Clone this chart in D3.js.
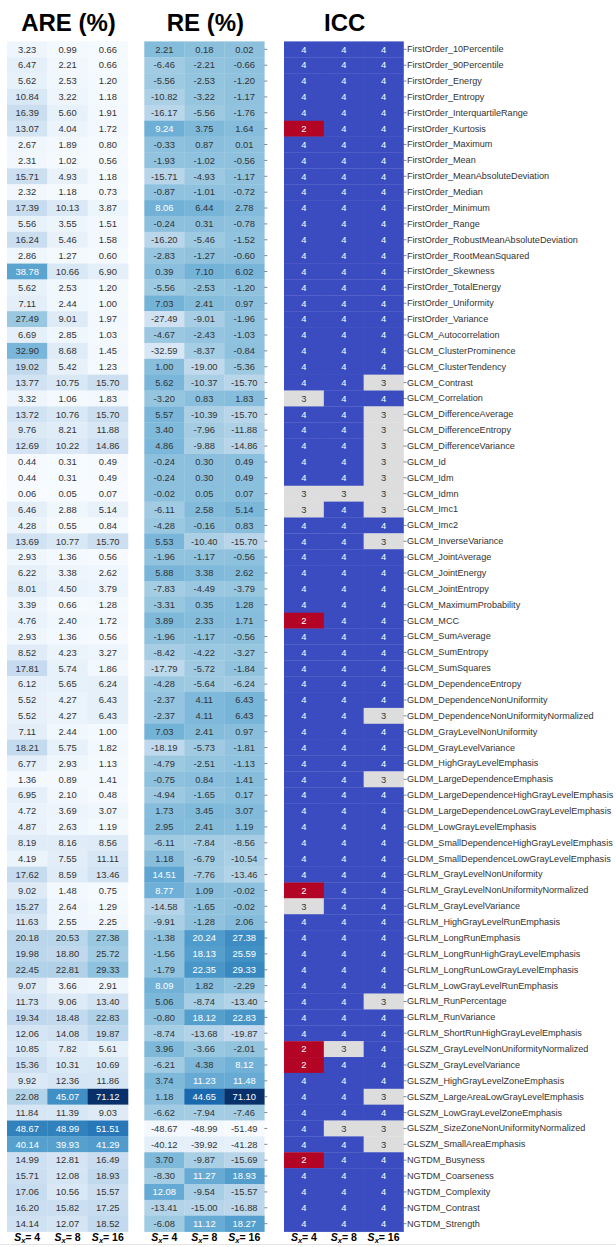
<!DOCTYPE html>
<html>
<head>
<meta charset="utf-8">
<script src="https://cdn.jsdelivr.net/npm/d3@7"></script>
<style>
  body { margin: 0; background: #fff; }
  svg { display: block; }
  text { font-family: "Liberation Sans", Arial, sans-serif; }
</style>
</head>
<body>
<svg id="chart" width="616" height="1247"></svg>
<script>
// Radiomic features (rows)
const features = [
  "FirstOrder_10Percentile","FirstOrder_90Percentile","FirstOrder_Energy","FirstOrder_Entropy",
  "FirstOrder_InterquartileRange","FirstOrder_Kurtosis","FirstOrder_Maximum","FirstOrder_Mean",
  "FirstOrder_MeanAbsoluteDeviation","FirstOrder_Median","FirstOrder_Minimum","FirstOrder_Range",
  "FirstOrder_RobustMeanAbsoluteDeviation","FirstOrder_RootMeanSquared","FirstOrder_Skewness",
  "FirstOrder_TotalEnergy","FirstOrder_Uniformity","FirstOrder_Variance",
  "GLCM_Autocorrelation","GLCM_ClusterProminence","GLCM_ClusterTendency","GLCM_Contrast",
  "GLCM_Correlation","GLCM_DifferenceAverage","GLCM_DifferenceEntropy","GLCM_DifferenceVariance",
  "GLCM_Id","GLCM_Idm","GLCM_Idmn","GLCM_Imc1","GLCM_Imc2","GLCM_InverseVariance",
  "GLCM_JointAverage","GLCM_JointEnergy","GLCM_JointEntropy","GLCM_MaximumProbability",
  "GLCM_MCC","GLCM_SumAverage","GLCM_SumEntropy","GLCM_SumSquares",
  "GLDM_DependenceEntropy","GLDM_DependenceNonUniformity","GLDM_DependenceNonUniformityNormalized",
  "GLDM_GrayLevelNonUniformity","GLDM_GrayLevelVariance","GLDM_HighGrayLevelEmphasis",
  "GLDM_LargeDependenceEmphasis","GLDM_LargeDependenceHighGrayLevelEmphasis",
  "GLDM_LargeDependenceLowGrayLevelEmphasis","GLDM_LowGrayLevelEmphasis",
  "GLDM_SmallDependenceHighGrayLevelEmphasis","GLDM_SmallDependenceLowGrayLevelEmphasis",
  "GLRLM_GrayLevelNonUniformity","GLRLM_GrayLevelNonUniformityNormalized","GLRLM_GrayLevelVariance",
  "GLRLM_HighGrayLevelRunEmphasis","GLRLM_LongRunEmphasis","GLRLM_LongRunHighGrayLevelEmphasis",
  "GLRLM_LongRunLowGrayLevelEmphasis","GLRLM_LowGrayLevelRunEmphasis","GLRLM_RunPercentage",
  "GLRLM_RunVariance","GLRLM_ShortRunHighGrayLevelEmphasis",
  "GLSZM_GrayLevelNonUniformityNormalized","GLSZM_GrayLevelVariance","GLSZM_HighGrayLevelZoneEmphasis",
  "GLSZM_LargeAreaLowGrayLevelEmphasis","GLSZM_LowGrayLevelZoneEmphasis",
  "GLSZM_SizeZoneNonUniformityNormalized","GLSZM_SmallAreaEmphasis",
  "NGTDM_Busyness","NGTDM_Coarseness","NGTDM_Complexity","NGTDM_Contrast","NGTDM_Strength"
];

// Column labels (S_x values)
const scaleLabels = ["4", "8", "16"];

// Absolute relative error (%)
const are4 = [3.23,6.47,5.62,10.84,16.39,13.07,2.67,2.31,15.71,2.32,17.39,5.56,16.24,2.86,38.78,5.62,7.11,27.49,
  6.69,32.90,19.02,13.77,3.32,13.72,9.76,12.69,0.44,0.44,0.06,6.46,4.28,13.69,2.93,6.22,8.01,3.39,4.76,2.93,8.52,17.81,
  6.12,5.52,5.52,7.11,18.21,6.77,1.36,6.95,4.72,4.87,8.19,4.19,
  17.62,9.02,15.27,11.63,20.18,19.98,22.45,9.07,11.73,19.34,12.06,
  10.85,15.36,9.92,22.08,11.84,48.67,40.14,
  14.99,15.71,17.06,16.20,14.14];
const are8 = [0.99,2.21,2.53,3.22,5.60,4.04,1.89,1.02,4.93,1.18,10.13,3.55,5.46,1.27,10.66,2.53,2.44,9.01,
  2.85,8.68,5.42,10.75,1.06,10.76,8.21,10.22,0.31,0.31,0.05,2.88,0.55,10.77,1.36,3.38,4.50,0.66,2.40,1.36,4.23,5.74,
  5.65,4.27,4.27,2.44,5.75,2.93,0.89,2.10,3.69,2.63,8.16,7.55,
  8.59,1.48,2.64,2.55,20.53,18.80,22.81,3.66,9.06,18.48,14.08,
  7.82,10.31,12.36,45.07,11.39,48.99,39.93,
  12.81,12.08,10.56,15.82,12.07];
const are16 = [0.66,0.66,1.20,1.18,1.91,1.72,0.80,0.56,1.18,0.73,3.87,1.51,1.58,0.60,6.90,1.20,1.00,1.97,
  1.03,1.45,1.23,15.70,1.83,15.70,11.88,14.86,0.49,0.49,0.07,5.14,0.84,15.70,0.56,2.62,3.79,1.28,1.72,0.56,3.27,1.86,
  6.24,6.43,6.43,1.00,1.82,1.13,1.41,0.48,3.07,1.19,8.56,11.11,
  13.46,0.75,1.29,2.25,27.38,25.72,29.33,2.91,13.40,22.83,19.87,
  5.61,10.69,11.86,71.12,9.03,51.51,41.29,
  16.49,18.93,15.57,17.25,18.52];

// Relative error (%)
const re4 = [2.21,-6.46,-5.56,-10.82,-16.17,9.24,-0.33,-1.93,-15.71,-0.87,8.06,-0.24,-16.20,-2.83,0.39,-5.56,7.03,-27.49,
  -4.67,-32.59,1.00,5.62,-3.20,5.57,3.40,4.86,-0.24,-0.24,-0.02,-6.11,-4.28,5.53,-1.96,5.88,-7.83,-3.31,3.89,-1.96,-8.42,-17.79,
  -4.28,-2.37,-2.37,7.03,-18.19,-4.79,-0.75,-4.94,1.73,2.95,-6.11,1.18,
  14.51,8.77,-14.58,-9.91,-1.38,-1.56,-1.79,8.09,5.06,-0.80,-8.74,
  3.96,-6.21,3.74,1.18,-6.62,-48.67,-40.12,
  3.70,-8.30,12.08,-13.41,-6.08];
const re8 = [0.18,-2.21,-2.53,-3.22,-5.56,3.75,0.87,-1.02,-4.93,-1.01,6.44,0.31,-5.46,-1.27,7.10,-2.53,2.41,-9.01,
  -2.43,-8.37,-19.00,-10.37,0.83,-10.39,-7.96,-9.88,0.30,0.30,0.05,2.58,-0.16,-10.40,-1.17,3.38,-4.49,0.35,2.33,-1.17,-4.22,-5.72,
  -5.64,4.11,4.11,2.41,-5.73,-2.51,0.84,-1.65,3.45,2.41,-7.84,-6.79,
  -7.76,1.09,-1.65,-1.28,20.24,18.13,22.35,1.82,-8.74,18.12,-13.68,
  -3.66,4.38,11.23,44.65,-7.94,-48.99,-39.92,
  -9.87,11.27,-9.54,-15.00,11.12];
const re16 = [0.02,-0.66,-1.20,-1.17,-1.76,1.64,0.01,-0.56,-1.17,-0.72,2.78,-0.78,-1.52,-0.60,6.02,-1.20,0.97,-1.96,
  -1.03,-0.84,-5.36,-15.70,1.83,-15.70,-11.88,-14.86,0.49,0.49,0.07,5.14,0.83,-15.70,-0.56,2.62,-3.79,1.28,1.71,-0.56,-3.27,-1.84,
  -6.24,6.43,6.43,0.97,-1.81,-1.13,1.41,0.17,3.07,1.19,-8.56,-10.54,
  -13.46,-0.02,-0.02,2.06,27.38,25.59,29.33,-2.29,-13.40,22.83,-19.87,
  -2.01,8.12,11.48,71.10,-7.46,-51.49,-41.28,
  -15.69,18.93,-15.57,-16.88,18.27];

// ICC agreement class
const icc4 = [4,4,4,4,4,2,4,4,4,4, 4,4,4,4,4,4,4,4,4,4, 4,4,3,4,4,4,4,4,3,3, 4,4,4,4,4,4,2,4,4,4,
  4,4,4,4,4,4,4,4,4,4, 4,4,4,2,3,4,4,4,4,4, 4,4,4,2,2,4,4,4,4,4, 2,4,4,4,4];
const icc8 = [4,4,4,4,4,4,4,4,4,4, 4,4,4,4,4,4,4,4,4,4, 4,4,4,4,4,4,4,4,3,4, 4,4,4,4,4,4,4,4,4,4,
  4,4,4,4,4,4,4,4,4,4, 4,4,4,4,4,4,4,4,4,4, 4,4,4,3,4,4,4,4,3,4, 4,4,4,4,4];
const icc16 = [4,4,4,4,4,4,4,4,4,4, 4,4,4,4,4,4,4,4,4,4, 4,3,4,3,3,3,3,3,3,3, 4,3,4,4,4,4,4,4,4,4,
  4,4,3,4,4,4,3,4,4,4, 4,4,4,4,4,4,4,4,4,4, 3,4,4,4,4,4,3,4,3,3, 4,4,4,4,4];

// ---- colour maps ----
const bluesStops = ["#f7fbff","#deebf7","#c6dbef","#9ecae1","#6baed6","#4292c6","#2171b5","#08519c","#08306b"];
function bluesScale(extent) {
  const [lo, hi] = extent;
  return d3.scaleLinear()
    .domain(bluesStops.map((_, i) => lo + (hi - lo) * i / (bluesStops.length - 1)))
    .range(bluesStops)
    .interpolate(d3.interpolateRgb)
    .clamp(true);
}
const iccColor = d3.scaleOrdinal().domain([2, 3, 4]).range(["#b40426", "#dddddd", "#3b4cc0"]);

function luminance(c) {
  const rgb = d3.rgb(c);
  const lin = [rgb.r, rgb.g, rgb.b].map(v => {
    v /= 255;
    return v <= 0.03928 ? v / 12.92 : Math.pow((v + 0.055) / 1.055, 2.4);
  });
  return 0.2126 * lin[0] + 0.7152 * lin[1] + 0.0722 * lin[2];
}
const textColor = c => luminance(c) > 0.408 ? "#333333" : "#ffffff";

// two-decimal format with a plain hyphen for negatives
const fmt2 = d3.formatLocale({ decimal: ".", thousands: ",", grouping: [3], currency: ["", ""], minus: "-" }).format(".2f");

// ---- layout ----
const svg = d3.select("#chart");
const rowScale = d3.scaleBand().domain(features).range([41.4, 1231.6]);

const panels = [
  { title: "ARE (%)", x0: 7,     x1: 128,   cols: [are4, are8, are16], ticks: false,
    color: bluesScale(d3.extent([...are4, ...are8, ...are16])), fmt: fmt2 },
  { title: "RE (%)",  x0: 144.3, x1: 264.3, cols: [re4, re8, re16],    ticks: true,
    color: bluesScale(d3.extent([...re4, ...re8, ...re16])), fmt: fmt2 },
  { title: "ICC",     x0: 284,   x1: 403.5, cols: [icc4, icc8, icc16], ticks: true,
    color: iccColor, fmt: d => String(d) }
];

panels.forEach(p => {
  const colScale = d3.scaleBand().domain(scaleLabels).range([p.x0, p.x1]);
  const g = svg.append("g");

  const cells = [];
  features.forEach((f, r) => {
    scaleLabels.forEach((s, c) => cells.push({ f, s, v: p.cols[c][r] }));
  });

  g.selectAll("rect").data(cells).join("rect")
    .attr("x", d => colScale(d.s))
    .attr("y", d => rowScale(d.f))
    .attr("width", colScale.bandwidth() + 0.3)
    .attr("height", rowScale.bandwidth() + 0.3)
    .attr("fill", d => p.color(d.v));

  g.selectAll("text.val").data(cells).join("text")
    .attr("class", "val")
    .attr("x", d => colScale(d.s) + colScale.bandwidth() / 2)
    .attr("y", d => rowScale(d.f) + rowScale.bandwidth() / 2)
    .attr("dy", "0.35em")
    .attr("text-anchor", "middle")
    .attr("font-size", "9.4px")
    .attr("fill", d => textColor(p.color(d.v)))
    .text(d => p.fmt(d.v));

  // panel title
  svg.append("text")
    .attr("x", (p.x0 + p.x1) / 2 + 1)
    .attr("y", 31)
    .attr("text-anchor", "middle")
    .attr("font-size", "24px")
    .attr("font-weight", "bold")
    .attr("fill", "#000")
    .text(p.title);

  // column labels S_x = n
  const foot = svg.append("g").selectAll("text").data(scaleLabels).join("text")
    .attr("x", d => colScale(d) + colScale.bandwidth() / 2)
    .attr("y", 1241)
    .attr("text-anchor", "middle")
    .attr("font-size", "10.5px")
    .attr("font-weight", "bold")
    .attr("fill", "#000");
  foot.append("tspan").attr("font-style", "italic").text("S");
  foot.append("tspan").attr("font-style", "italic").attr("font-size", "7.5px").attr("dy", "2").text("x");
  foot.append("tspan").attr("dy", "-2").text(d => "= " + d);

  // right-hand tick marks
  if (p.ticks) {
    g.selectAll("line.tick").data(features).join("line")
      .attr("class", "tick")
      .attr("x1", p.x1).attr("x2", p.x1 + 3)
      .attr("y1", d => rowScale(d) + rowScale.bandwidth() / 2)
      .attr("y2", d => rowScale(d) + rowScale.bandwidth() / 2)
      .attr("stroke", "#666").attr("stroke-width", 0.8);
  }
});

// feature names on the right of the ICC panel
const yAxis = d3.axisRight(rowScale).tickSize(0).tickPadding(3.5);
svg.append("g")
  .attr("transform", "translate(403.5,0)")
  .call(yAxis)
  .call(a => a.select(".domain").remove())
  .call(a => a.selectAll("text")
    .attr("font-size", "9.1px")
    .attr("font-family", "\"Liberation Sans\", Arial, sans-serif")
    .attr("fill", "#333"));

// faint baseline at the bottom
svg.append("line")
  .attr("x1", 0).attr("x2", 616).attr("y1", 1244.5).attr("y2", 1244.5)
  .attr("stroke", "#e4e4e4").attr("stroke-width", 1);
</script>
</body>
</html>
